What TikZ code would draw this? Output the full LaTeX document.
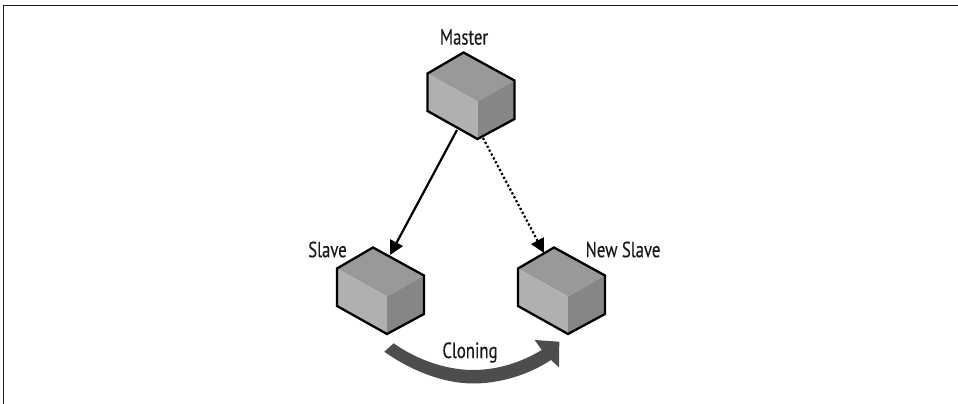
\documentclass[tikz,border=0pt]{standalone}
\usepackage{fontspec}
\setmainfont[FakeStretch=0.76,FakeBold=0.3]{PT Sans}
\usetikzlibrary{arrows.meta}
\definecolor{cubetop}{HTML}{999999}
\definecolor{cubeleft}{HTML}{B0B0B0}
\definecolor{cuberight}{HTML}{868686}
\definecolor{bandc}{HTML}{4D4D4D}
\definecolor{inkc}{HTML}{1A1A1A}
\tikzset{
  x=1pt,y=-1pt,
  lbl/.style={inner sep=0pt,font=\fontsize{22}{22}\selectfont,text=inkc},
  link/.style={line width=2.2pt,draw=black,-{Triangle[length=14pt,width=14pt]}},
  dotlink/.style={link,dash pattern=on 2.2pt off 2.2pt},
  frameline/.style={line width=1.6pt,draw=inkc},
  pics/cube/.style={code={
    \fill[cubetop] (0,0) -- (-50,-28) -- (-14,-49) -- (37,-21) -- cycle;
    \fill[cubeleft] (0,0) -- (-50,-28) -- (-50,9.5) -- (0,37.5) -- cycle;
    \fill[cuberight] (0,0) -- (37,-21) -- (37,17.5) -- (0,37.5) -- cycle;
    \draw[line width=2.3pt,line join=miter,draw=black] (-14,-49) -- (-50,-28) -- (-50,9.5) -- (0,37.5) -- (37,17.5) -- (37,-21) -- cycle;
  }}
}
\begin{document}
\begin{tikzpicture}
\useasboundingbox (0,0) rectangle (958,404);
\coordinate (fa) at (3.5,404);
\coordinate (fb) at (3.5,5.5);
\coordinate (fc) at (958,5.5);
\draw[frameline] (fa) -- (fb) -- (fc);

\pic at (477.5,101.5) {cube};
\pic at (387,296.5) {cube};
\pic at (568,296.5) {cube};

\node[lbl] (master) at (464,37) {Master};
\node[lbl] (slave) at (327.5,249.5) {Slave};
\node[lbl] (newslave) at (623,249.5) {New Slave};
\node[lbl] (cloning) at (470,352.5) {Cloning};

\coordinate (mOutA) at (457,130);
\coordinate (sIn) at (390,255);
\coordinate (mOutB) at (483,138);
\coordinate (nIn) at (544,253);
\draw[link] (mOutA) -- (sIn);
\draw[dotlink] (mOutB) -- (nIn);

\fill[bandc] (393.7,343.3) .. controls (420,362) and (450,370) .. (473,370)
  .. controls (498,370) and (522,362) .. (541.7,350)
  -- (534.7,340) -- (559.3,341.7) -- (559,367.3) -- (551,360)
  .. controls (528,375) and (500,383.5) .. (473,383.5)
  .. controls (443,383.5) and (410,370) .. (384.3,351.7) -- cycle;
\end{tikzpicture}
\end{document}
